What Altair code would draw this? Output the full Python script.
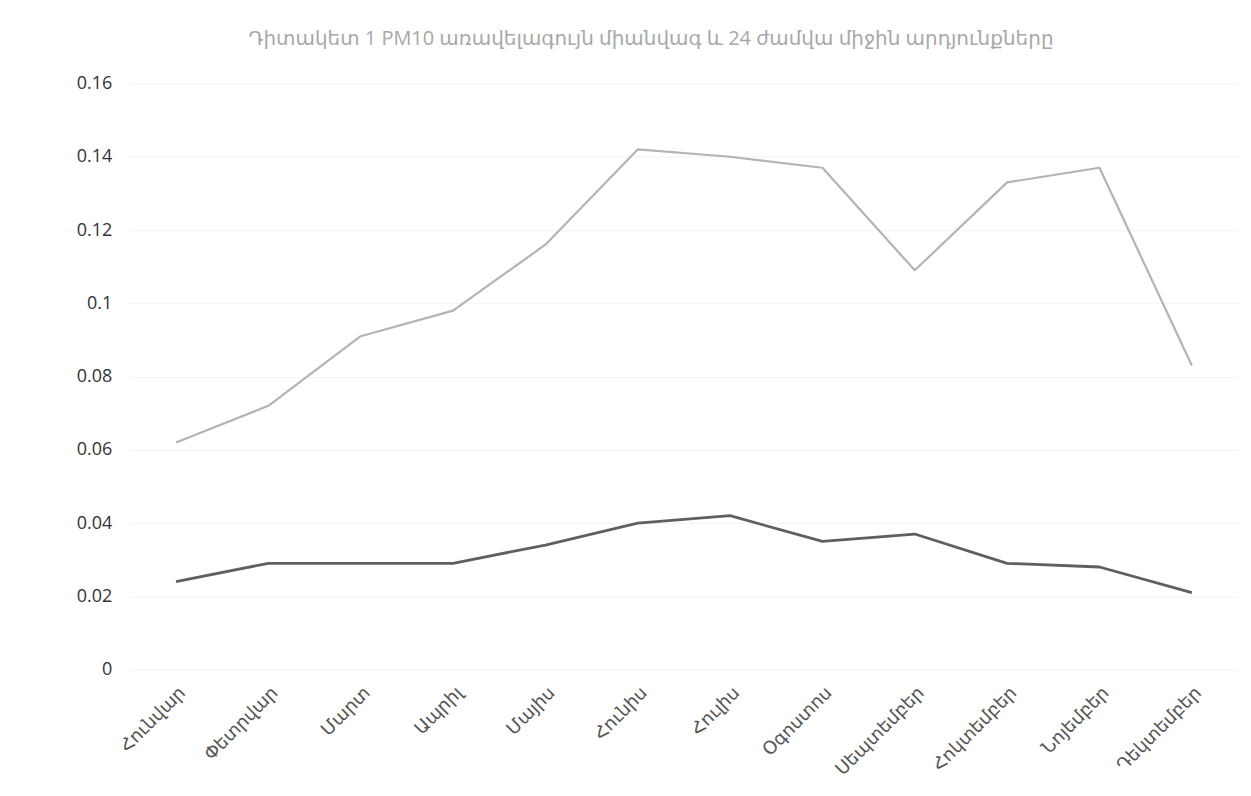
import altair as alt
import pandas as pd

months = ["Հունվար", "Փետրվար", "Մարտ", "Ապրիլ", "Մայիս", "Հունիս",
          "Հուլիս", "Օգոստոս", "Սեպտեմբեր", "Հոկտեմբեր", "Նոյեմբեր", "Դեկտեմբեր"]
max_single = [0.062, 0.072, 0.091, 0.098, 0.116, 0.142, 0.140, 0.137, 0.109, 0.133, 0.137, 0.083]
avg_24h = [0.024, 0.029, 0.029, 0.029, 0.034, 0.040, 0.042, 0.035, 0.037, 0.029, 0.028, 0.021]
series_names = ["Առավելագույն միանվագ", "24 ժամվա միջին"]
y_ticks = [0, 0.02, 0.04, 0.06, 0.08, 0.1, 0.12, 0.14, 0.16]

rows = []
for i, m in enumerate(months):
    rows.append({"month": m, "series": series_names[0], "value": max_single[i]})
    rows.append({"month": m, "series": series_names[1], "value": avg_24h[i]})
df = pd.DataFrame(rows)

FONT = "Open Sans, DejaVu Sans, sans-serif"

chart = alt.Chart(df).mark_line(strokeJoin="round").encode(
    x=alt.X("month:N", sort=months, scale=alt.Scale(type="point", padding=0.5),
            axis=alt.Axis(title=None, labelAngle=-45, labelFontSize=18, labelColor="#555",
                          labelFont=FONT, ticks=False, domain=False, grid=False,
                          labelPadding=14)),
    y=alt.Y("value:Q", scale=alt.Scale(domain=[0, 0.16], nice=False),
            axis=alt.Axis(title=None, values=y_ticks, format=".2~f", labelFontSize=18,
                          labelColor="#333", labelFont=FONT, ticks=False, domain=False,
                          grid=True, gridColor="#f2f2f2", labelPadding=18)),
    color=alt.Color("series:N", sort=series_names,
                    scale=alt.Scale(domain=series_names, range=["#b4b4b4", "#5f5f5f"]),
                    legend=None),
    strokeWidth=alt.StrokeWidth("series:N", scale=alt.Scale(domain=series_names, range=[2.2, 2.8]),
                                legend=None),
).properties(
    width=1110,
    height=587,
    background="white",
    title=alt.TitleParams("Դիտակետ 1 PM10 առավելագույն միանվագ և 24 ժամվա միջին արդյունքները",
                          fontSize=20, font=FONT, fontWeight="normal", color="#a8a8a8",
                          offset=26, dx=-33),
    autosize=alt.AutoSizeParams(type="none"),
    padding={"left": 122, "top": 75, "right": 5, "bottom": 110},
).configure_view(stroke=None)

chart.save("out.html", embed_options={"renderer": "svg", "actions": False})
